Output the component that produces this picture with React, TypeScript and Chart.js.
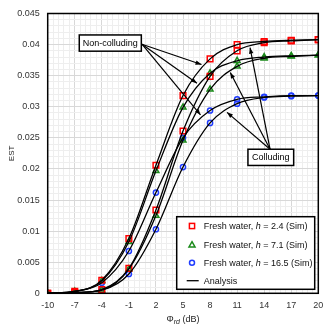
import React, { useEffect, useRef } from "react";
import { Chart, registerables } from "chart.js";

Chart.register(...registerables);

const phi = [-10, -7, -4, -1, 2, 5, 8, 11, 14, 17, 20];
const nonColl24 = [0, 0.0003, 0.0021, 0.0088, 0.0206, 0.0318, 0.0377, 0.04, 0.0405, 0.0407, 0.0408];
const coll24 = [0, 0.0001, 0.0006, 0.004, 0.0134, 0.0261, 0.0349, 0.039, 0.0403, 0.0406, 0.0408];
const nonColl71 = [0, 0.0003, 0.002, 0.0083, 0.0197, 0.0299, 0.0354, 0.0374, 0.038, 0.0382, 0.0383];
const coll71 = [0, 0.0001, 0.0005, 0.0039, 0.0125, 0.0246, 0.0328, 0.0365, 0.0378, 0.0381, 0.0383];
const nonColl165 = [0, 0.0003, 0.0017, 0.0068, 0.0162, 0.025, 0.0294, 0.0312, 0.0316, 0.0318, 0.0318];
const coll165 = [0, 0.0001, 0.0005, 0.0031, 0.0103, 0.0203, 0.0274, 0.0305, 0.0315, 0.0317, 0.0318];

const legendLabels = [
  { pre: "Fresh water, ", it: "h", post: " = 2.4 (Sim)" },
  { pre: "Fresh water, ", it: "h", post: " = 7.1 (Sim)" },
  { pre: "Fresh water, ", it: "h", post: " = 16.5 (Sim)" },
];
const analysisLabel = "Analysis";
const nonCollText = "Non-colluding";
const collText = "Colluding";
const yTitle = "EST";

// annotation anchor points in data coordinates
const nonCollBox = { x0: -6.5, x1: 0.38, y0: 0.04155, y1: 0.03894 };
const nonCollStart = { x: 0.45, y: 0.04006 };
const nonCollTargets = [
  { x: 7.05, y: 0.0368 },
  { x: 6.55, y: 0.0338 },
  { x: 6.94, y: 0.0287 },
];
const collBox = { x0: 12.2, x1: 17.27, y0: 0.02317, y1: 0.02056 };
const collStart = { x: 14.65, y: 0.02317 };
const collTargets = [
  { x: 12.43, y: 0.03952 },
  { x: 10.24, y: 0.03551 },
  { x: 9.88, y: 0.0291 },
];

const RED = "#ff0000";
const GREEN = "#1a8a1a";
const BLUE = "#1f3cff";
const FONT = "'Liberation Sans', Arial, sans-serif";

function pts(vals: number[]) {
  return phi.map((x, i) => ({ x, y: vals[i] }));
}

function arrow(ctx: CanvasRenderingContext2D, x0: number, y0: number, x1: number, y1: number) {
  ctx.beginPath();
  ctx.moveTo(x0, y0);
  ctx.lineTo(x1, y1);
  ctx.stroke();
  const a = Math.atan2(y1 - y0, x1 - x0);
  const L = 6, W = 2.2;
  ctx.beginPath();
  ctx.moveTo(x1, y1);
  ctx.lineTo(x1 - L * Math.cos(a) + W * Math.sin(a), y1 - L * Math.sin(a) - W * Math.cos(a));
  ctx.lineTo(x1 - L * Math.cos(a) - W * Math.sin(a), y1 - L * Math.sin(a) + W * Math.cos(a));
  ctx.closePath();
  ctx.fill();
}

const overlay = {
  id: "overlay",
  afterDraw(chart: any) {
    const ctx: CanvasRenderingContext2D = chart.ctx;
    const { left, right, top, bottom } = chart.chartArea;
    const xs = chart.scales.x;
    const ys = chart.scales.y;
    const px = (v: number) => xs.getPixelForValue(v);
    const py = (v: number) => ys.getPixelForValue(v);
    ctx.save();
    // frame
    ctx.strokeStyle = "#000";
    ctx.lineWidth = 1.5;
    ctx.strokeRect(left, top, right - left, bottom - top);

    // annotations
    const drawBox = (b: any, text: string) => {
      const x0 = px(b.x0), x1 = px(b.x1), y0 = py(b.y0), y1 = py(b.y1);
      ctx.fillStyle = "#fff";
      ctx.fillRect(x0, y0, x1 - x0, y1 - y0);
      ctx.strokeStyle = "#000";
      ctx.lineWidth = 1.5;
      ctx.strokeRect(x0, y0, x1 - x0, y1 - y0);
      ctx.fillStyle = "#000";
      ctx.font = `9px ${FONT}`;
      ctx.textAlign = "center";
      ctx.textBaseline = "middle";
      ctx.fillText(text, (x0 + x1) / 2, (y0 + y1) / 2 + 0.5);
    };
    ctx.lineWidth = 1.2;
    ctx.strokeStyle = "#000";
    ctx.fillStyle = "#000";
    nonCollTargets.forEach((t) => arrow(ctx, px(nonCollStart.x), py(nonCollStart.y), px(t.x), py(t.y)));
    collTargets.forEach((t) => arrow(ctx, px(collStart.x), py(collStart.y), px(t.x), py(t.y)));
    drawBox(nonCollBox, nonCollText);
    drawBox(collBox, collText);

    // legend
    const bx = right - 141.6, by = bottom - 76.6, bw = 138, bh = 72.6;
    ctx.fillStyle = "#fff";
    ctx.fillRect(bx, by, bw, bh);
    ctx.strokeStyle = "#000";
    ctx.lineWidth = 1.5;
    ctx.strokeRect(bx, by, bw, bh);
    const rows = [9.3, 28, 46, 64];
    const mx = bx + 15.3;
    const tx = bx + 27;
    ctx.lineWidth = 1.5;
    ctx.strokeStyle = RED;
    ctx.strokeRect(mx - 2.6, by + rows[0] - 2.6, 5.2, 5.2);
    ctx.strokeStyle = GREEN;
    ctx.beginPath();
    ctx.moveTo(mx, by + rows[1] - 3);
    ctx.lineTo(mx + 3, by + rows[1] + 2.2);
    ctx.lineTo(mx - 3, by + rows[1] + 2.2);
    ctx.closePath();
    ctx.stroke();
    ctx.strokeStyle = BLUE;
    ctx.beginPath();
    ctx.arc(mx, by + rows[2], 2.5, 0, Math.PI * 2);
    ctx.stroke();
    ctx.strokeStyle = "#000";
    ctx.lineWidth = 1.3;
    ctx.beginPath();
    ctx.moveTo(bx + 10, by + rows[3]);
    ctx.lineTo(bx + 22, by + rows[3]);
    ctx.stroke();

    ctx.fillStyle = "#111";
    ctx.textAlign = "left";
    ctx.textBaseline = "middle";
    legendLabels.forEach((l, i) => {
      let x = tx;
      const y = by + rows[i] + 0.5;
      ctx.font = `9px ${FONT}`;
      ctx.fillText(l.pre, x, y);
      x += ctx.measureText(l.pre).width;
      ctx.font = `italic 9px ${FONT}`;
      ctx.fillText(l.it, x, y);
      x += ctx.measureText(l.it).width;
      ctx.font = `9px ${FONT}`;
      ctx.fillText(l.post, x, y);
    });
    ctx.font = `9px ${FONT}`;
    ctx.fillText(analysisLabel, tx, by + rows[3] + 0.5);

    // axis titles
    ctx.fillStyle = "#222";
    ctx.save();
    ctx.translate(6.2, (top + bottom) / 2);
    ctx.rotate(-Math.PI / 2);
    ctx.textAlign = "center";
    ctx.textBaseline = "alphabetic";
    ctx.font = `8px ${FONT}`;
    ctx.fillText(yTitle, 0, 0);
    ctx.restore();

    const cx = (left + right) / 2;
    const ty = bottom + 28.5;
    ctx.textBaseline = "alphabetic";
    ctx.textAlign = "left";
    ctx.font = `9px ${FONT}`;
    const p1 = "\u03A6";
    const sub = "rd";
    const p2 = " (dB)";
    const w1 = ctx.measureText(p1).width;
    ctx.font = `italic 7px ${FONT}`;
    const ws = ctx.measureText(sub).width;
    ctx.font = `9px ${FONT}`;
    const w2 = ctx.measureText(p2).width;
    let x = cx - (w1 + ws + w2) / 2;
    ctx.fillText(p1, x, ty);
    x += w1;
    ctx.font = `italic 7px ${FONT}`;
    ctx.fillText(sub, x, ty + 2);
    x += ws;
    ctx.font = `9px ${FONT}`;
    ctx.fillText(p2, x, ty);
    ctx.restore();
  },
};

export default function App() {
  const ref = useRef<HTMLCanvasElement>(null);
  useEffect(() => {
    if (!ref.current) return;
    const series = [
      { v: nonColl24, c: RED, s: "rect", r: 4 },
      { v: coll24, c: RED, s: "rect", r: 4 },
      { v: nonColl71, c: GREEN, s: "triangle", r: 3.4 },
      { v: coll71, c: GREEN, s: "triangle", r: 3.4 },
      { v: nonColl165, c: BLUE, s: "circle", r: 2.6 },
      { v: coll165, c: BLUE, s: "circle", r: 2.6 },
    ];
    const lineSets = series.map((s) => ({
      data: pts(s.v),
      showLine: true,
      borderColor: "#000",
      borderWidth: 1.3,
      pointRadius: 0,
      cubicInterpolationMode: "monotone" as const,
      fill: false,
      order: 1,
    }));
    const markerSets = series.map((s) => ({
      data: pts(s.v),
      showLine: false,
      pointStyle: s.s,
      pointRadius: s.r,
      pointBorderWidth: 1.5,
      pointBorderColor: s.c,
      pointBackgroundColor: "rgba(0,0,0,0)",
      borderColor: s.c,
      backgroundColor: "rgba(0,0,0,0)",
      order: 2,
    }));
    const major = "#d8d8d8";
    const minor = "#eeeeee";
    const chart = new Chart(ref.current, {
      type: "line",
      data: { datasets: [...markerSets, ...lineSets] as any },
      options: {
        animation: false,
        responsive: false,
        maintainAspectRatio: false,
        layout: { padding: { top: 4.7, right: 5.7, left: 0, bottom: 0 } },
        plugins: { legend: { display: false }, tooltip: { enabled: false } },
        scales: {
          x: {
            type: "linear",
            min: -10,
            max: 20,
            afterBuildTicks: (scale: any) => {
              scale.ticks = Array.from({ length: 51 }, (_, i) => ({ value: -10 + i * 0.6 }));
            },
            afterFit: (scale: any) => {
              scale.height = 34.7;
              scale.paddingLeft = 0;
              scale.paddingRight = 0;
              scale.paddingTop = 0;
              scale.paddingBottom = 0;
            },
            ticks: {
              autoSkip: false,
              maxRotation: 0,
              padding: 6.5,
              color: "#333",
              font: { family: FONT, size: 9 },
              callback: (_v: any, i: number) => (i % 5 === 0 ? String(-10 + (i / 5) * 3) : ""),
            },
            grid: {
              drawTicks: false,
              color: (c: any) => (c.index % 5 === 0 ? major : minor),
              lineWidth: 1,
            },
            border: { display: false },
          },
          y: {
            type: "linear",
            min: 0,
            max: 0.045,
            afterBuildTicks: (scale: any) => {
              scale.ticks = Array.from({ length: 46 }, (_, i) => ({ value: i * 0.001 }));
            },
            afterFit: (scale: any) => {
              scale.width = 39.7;
              scale.paddingLeft = 0;
              scale.paddingRight = 0;
              scale.paddingTop = 0;
              scale.paddingBottom = 0;
            },
            ticks: {
              autoSkip: false,
              padding: 8,
              color: "#333",
              font: { family: FONT, size: 9 },
              callback: (_v: any, i: number) =>
                i % 5 === 0 ? String(Number(((i / 5) * 0.005).toFixed(3))) : "",
            },
            grid: {
              drawTicks: false,
              color: (c: any) => (c.index % 5 === 0 ? major : minor),
              lineWidth: 1,
            },
            border: { display: false },
          },
        },
      },
      plugins: [overlay],
    } as any);
    return () => chart.destroy();
  }, []);
  return (
    <div style={{ width: 316, height: 320 }}>
      <canvas ref={ref} width={316} height={320} style={{ display: "block" }} />
    </div>
  );
}
